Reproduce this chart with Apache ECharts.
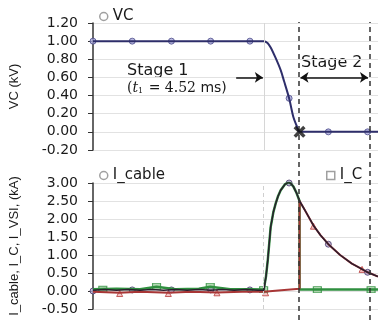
<!DOCTYPE html>
<html lang="en">
<head>
    <meta charset="UTF-8">
    <title>VC and currents</title>
    <script src="https://cdn.jsdelivr.net/npm/echarts@6.0.0/dist/echarts.min.js"></script>
    <style>
        html, body { margin: 0; padding: 0; background: #fff; }
        #chart { width: 378px; height: 320px; }
    </style>
</head>
<body>
<div id="chart"></div>
<script>
    // time axis is in sample steps (one marker per step)
    const tMax = 7.266;
    const tGrid = 4.354;       // light grey vertical line where VC starts to fall
    const tStage = [5.266, 7.063]; // dashed stage markers
    const t1 = 5.266;          // VC reaches zero

    // VC (kV)
    const tVC = [0, 1, 2, 3, 4, 4.354, 4.45, 4.53, 4.65, 4.785, 4.87, 5.0, 5.11, 5.19, 5.266, 6, 7, 7.266];
    const vc = [1, 1, 1, 1, 1, 1, 0.98, 0.93, 0.82, 0.68, 0.56, 0.37, 0.16, 0.07, 0, 0, 0, 0];
    const tVCMark = [0, 1, 2, 3, 4, 5, 6, 7];
    const vcMark = [1, 1, 1, 1, 1, 0.37, 0, 0];

    // I_cable (kA)
    const tCable = [0, 0.3, 0.6, 0.9, 1.2, 1.5, 1.8, 2.1, 2.4, 2.7, 3.0, 3.3, 3.6, 3.9, 4.2,
        4.354, 4.41, 4.456, 4.53, 4.6, 4.66, 4.72, 4.785, 4.9, 4.99, 5.05, 5.11, 5.19, 5.266,
        5.4, 5.62, 5.8, 6.0, 6.3, 6.6, 6.8, 7.0, 7.266];
    const iCable = [0.02, 0.04, 0.02, 0.04, 0.02, 0.04, 0.02, 0.04, 0.02, 0.04, 0.02, 0.04, 0.02, 0.04, 0.02,
        0.02, 0.4, 0.86, 1.78, 2.2, 2.44, 2.64, 2.8, 2.97, 3.02, 2.98, 2.9, 2.72, 2.5,
        2.25, 1.82, 1.55, 1.3, 1.0, 0.76, 0.64, 0.52, 0.4];
    const tCableMark = [0, 1, 2, 3, 4, 5, 6, 7];
    const iCableMark = [0, 0.03, 0.03, 0.03, 0.03, 3.0, 1.3, 0.52];

    // I_C (kA)
    const tC = [0, 0.6, 1.2, 1.62, 2.1, 2.7, 2.99, 3.5, 4.0,
        4.354, 4.41, 4.456, 4.53, 4.6, 4.66, 4.72, 4.785, 4.9, 4.99, 5.05, 5.11, 5.19, 5.266,
        5.266, 6.0, 7.266];
    const iC = [0.05, 0.06, 0.05, 0.12, 0.05, 0.06, 0.12, 0.05, 0.05,
        0.04, 0.4, 0.86, 1.78, 2.2, 2.44, 2.64, 2.8, 2.97, 3.02, 2.98, 2.9, 2.72, 2.5,
        0.04, 0.04, 0.04];
    const tCMark = [0.25, 1.62, 2.99, 4.35, 5.72, 7.09];
    const iCMark = [0.05, 0.13, 0.13, 0.04, 0.04, 0.04];

    // I_VSI (kA)
    const tVSI = [0, 0.68, 1.2, 1.92, 2.5, 3.16, 3.8, 4.354, 4.8, 5.266,
        5.266, 5.4, 5.62, 5.8, 6.0, 6.3, 6.6, 6.8, 7.0, 7.266];
    const iVSI = [-0.02, -0.05, -0.02, -0.05, -0.02, -0.04, -0.02, -0.02, 0.02, 0.06,
        2.5, 2.25, 1.82, 1.55, 1.3, 1.0, 0.76, 0.64, 0.52, 0.4];
    const tVSIMark = [0.68, 1.92, 3.16, 4.4, 5.62, 6.86];
    const iVSIMark = [-0.07, -0.07, -0.05, -0.05, 1.8, 0.6];

    const pairs = (xs, ys) => xs.map((x, i) => [x, ys[i]]);

    let myChart = echarts.init(document.getElementById('chart'));
    const font = 'DejaVu Sans';
    const tickLabel = {
        fontFamily: font, fontSize: 14, color: '#1a1a1a', margin: 15,
        formatter: v => v.toFixed(2)
    };
    const yBase = {
        type: 'value',
        axisLine: {show: true, lineStyle: {color: '#333', width: 1.5}},
        axisTick: {show: true, length: 5, lineStyle: {color: '#333'}},
        splitLine: {lineStyle: {color: '#e2e2e2'}},
        nameLocation: 'middle',
        nameRotate: 90,
        nameTextStyle: {fontFamily: 'Liberation Sans', fontSize: 13, color: '#1a1a1a'}
    };
    const xBase = {type: 'value', min: 0, max: tMax, show: false};

    let option = {
        animation: false,
        backgroundColor: '#fff',
        grid: [
            {left: 91, right: 0, top: 23, height: 127},
            {left: 91, right: 0, top: 183, height: 126},
            {left: 91, right: 0, top: 22, bottom: 0}
        ],
        legend: [
            {
                left: 94, top: 4, itemWidth: 8, itemHeight: 8, itemGap: 6,
                textStyle: {fontFamily: font, fontSize: 15, color: '#1a1a1a'},
                data: [{name: 'VC', icon: 'circle', itemStyle: {color: '#fff', borderColor: '#888', borderWidth: 1.5}}]
            },
            {
                left: 94, top: 163, itemWidth: 8, itemHeight: 8, itemGap: 6,
                textStyle: {fontFamily: font, fontSize: 15, color: '#1a1a1a'},
                data: [{name: 'I_cable', icon: 'circle', itemStyle: {color: '#fff', borderColor: '#888', borderWidth: 1.5}}]
            },
            {
                left: 321, top: 163, itemWidth: 8, itemHeight: 8, itemGap: 8,
                textStyle: {fontFamily: font, fontSize: 15, color: '#1a1a1a'},
                data: [{name: 'I_C', icon: 'rect', itemStyle: {color: '#fff', borderColor: '#888', borderWidth: 1.5}}]
            }
        ],
        xAxis: [
            Object.assign({gridIndex: 0}, xBase),
            Object.assign({gridIndex: 1}, xBase),
            Object.assign({gridIndex: 2}, xBase)
        ],
        yAxis: [
            Object.assign({}, yBase, {
                gridIndex: 0, min: -0.2, max: 1.2, interval: 0.2,
                name: 'VC (kV)', nameGap: 72, axisLabel: tickLabel
            }),
            Object.assign({}, yBase, {
                gridIndex: 1, min: -0.5, max: 3.0, interval: 0.5,
                name: 'I_cable, I_C, I_VSI, (kA)', nameGap: 72, axisLabel: tickLabel
            }),
            {gridIndex: 2, type: 'value', min: 0, max: 1, show: false}
        ],
        series: [
            {
                name: 'VC curve', type: 'line', xAxisIndex: 0, yAxisIndex: 0,
                data: pairs(tVC, vc), smooth: 0.3, showSymbol: false,
                lineStyle: {color: '#2e2e6a', width: 2},
                markLine: {
                    silent: true, animation: false,
                    label: {show: false},
                    data: [
                        [{coord: [tGrid, -0.2], symbol: 'none'}, {coord: [tGrid, 1.2], symbol: 'none',
                            lineStyle: {color: '#d6d6d6', width: 1, type: 'solid'}}],
                        [{coord: [3.65, 0.6], symbol: 'none'}, {coord: [4.33, 0.6], symbol: 'arrow'}],
                        [{coord: [5.29, 0.6], symbol: 'arrow'}, {coord: [7.01, 0.6], symbol: 'arrow'}]
                    ],
                    symbolSize: [8, 8],
                    lineStyle: {color: '#111', width: 1.5, type: 'solid'}
                }
            },
            {
                name: 'VC', type: 'scatter', xAxisIndex: 0, yAxisIndex: 0,
                data: pairs(tVCMark, vcMark), symbol: 'circle', symbolSize: 6,
                itemStyle: {color: '#a8a8d8', borderColor: '#4a4a8a', borderWidth: 1}
            },
            {
                name: 't1', type: 'scatter', xAxisIndex: 0, yAxisIndex: 0,
                data: [[t1, 0]],
                symbol: 'path://M0,2L2,0L5,3L8,0L10,2L7,5L10,8L8,10L5,7L2,10L0,8L3,5Z',
                symbolSize: 12, itemStyle: {color: '#111'}, z: 5
            },
            {
                name: 'I_C line', type: 'line', xAxisIndex: 1, yAxisIndex: 1,
                data: pairs(tC, iC), showSymbol: false,
                lineStyle: {color: '#2f8f3f', width: 2.5},
                markLine: {
                    silent: true, symbol: 'none', label: {show: false},
                    lineStyle: {color: '#cfcfcf', width: 1, type: [4, 3]},
                    data: [{xAxis: tGrid}]
                }
            },
            {
                name: 'I_VSI line', type: 'line', xAxisIndex: 1, yAxisIndex: 1,
                data: pairs(tVSI, iVSI), showSymbol: false,
                lineStyle: {color: '#a83636', width: 2}
            },
            {
                name: 'I_cable line', type: 'line', xAxisIndex: 1, yAxisIndex: 1,
                data: pairs(tCable, iCable), showSymbol: false,
                lineStyle: {color: '#2a1e2e', width: 1.5}
            },
            {
                name: 'I_VSI', type: 'scatter', xAxisIndex: 1, yAxisIndex: 1,
                data: pairs(tVSIMark, iVSIMark), symbol: 'triangle', symbolSize: 6,
                itemStyle: {color: '#f0b8b8', borderColor: '#b83a3a', borderWidth: 1}
            },
            {
                name: 'I_C', type: 'scatter', xAxisIndex: 1, yAxisIndex: 1,
                data: pairs(tCMark, iCMark), symbol: 'rect', symbolSize: [8, 6],
                itemStyle: {color: '#9fd09f', borderColor: '#2f8f3f', borderWidth: 1}
            },
            {
                name: 'I_cable', type: 'scatter', xAxisIndex: 1, yAxisIndex: 1,
                data: pairs(tCableMark, iCableMark), symbol: 'circle', symbolSize: 6,
                itemStyle: {color: '#b0a6cc', borderColor: '#4a3a6a', borderWidth: 1}
            },
            {
                name: 'stages', type: 'line', xAxisIndex: 2, yAxisIndex: 2,
                data: [[0, 0]], showSymbol: false, lineStyle: {opacity: 0},
                markLine: {
                    silent: true, symbol: 'none', label: {show: false},
                    lineStyle: {color: '#333', width: 1.5, type: [5, 4]},
                    data: tStage.map(x => ({xAxis: x}))
                }
            }
        ],
        graphic: [
            {
                type: 'text', left: 127, top: 63,
                style: {text: 'Stage 1', fontFamily: font, fontSize: 16, fill: '#1a1a1a'}
            },
            {
                type: 'text', left: 301, top: 55,
                style: {text: 'Stage 2', fontFamily: font, fontSize: 16, fill: '#1a1a1a'}
            },
            {
                type: 'text', left: 127, top: 81,
                style: {
                    text: '{p|(}{i|t}{s|1}{p| = 4.52 }{m|ms)}',
                    rich: {
                        p: {fontFamily: 'DejaVu Serif', fontSize: 14, fill: '#1a1a1a', lineHeight: 16},
                        i: {fontFamily: 'DejaVu Serif', fontStyle: 'italic', fontSize: 14, fill: '#1a1a1a', lineHeight: 16},
                        s: {fontFamily: 'DejaVu Serif', fontSize: 8, fill: '#1a1a1a', lineHeight: 16, padding: [6, 1, 0, 0]},
                        m: {fontFamily: font, fontSize: 14, fill: '#1a1a1a', lineHeight: 16}
                    }
                }
            }
        ]
    };
    myChart.setOption(option);
</script>
</body>
</html>
